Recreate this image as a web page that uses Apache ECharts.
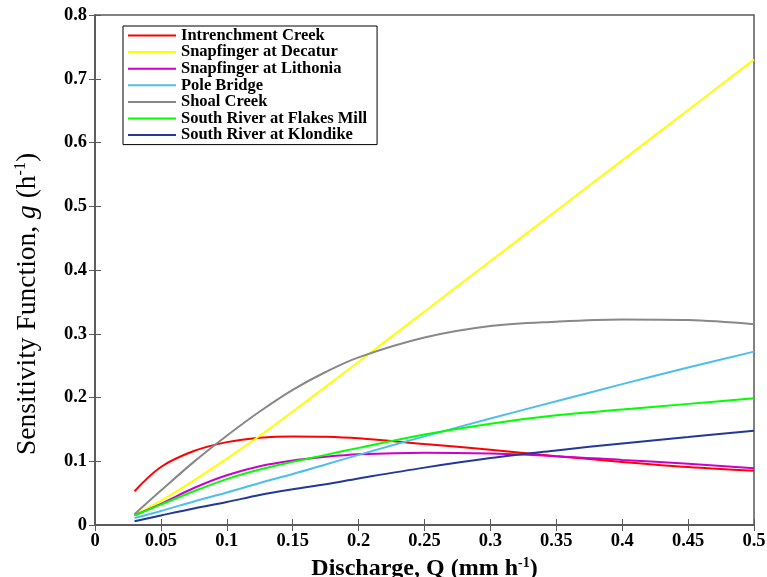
<!DOCTYPE html>
<html>
<head>
<meta charset="utf-8">
<script src="https://cdn.jsdelivr.net/npm/echarts@6/dist/echarts.min.js"></script>
<style>
  html, body { margin: 0; padding: 0; background: #fff; }
  #chart { width: 767px; height: 577px; }
</style>
</head>
<body>
<div id="chart"></div>
<script>
// Discharge values (mm/h) at which each sensitivity curve is sampled
const discharge = [0.03, 0.05, 0.075, 0.1, 0.125, 0.15, 0.175, 0.2, 0.25, 0.3, 0.35, 0.4, 0.45, 0.5];

// Sensitivity function g (1/h) for each gauge
const intrenchmentCreek   = [0.053, 0.091, 0.116, 0.130, 0.137, 0.139, 0.1385, 0.136, 0.127, 0.118, 0.108, 0.099, 0.091, 0.085];
const snapfingerDecatur   = [0.016, 0.038, 0.070, 0.104, 0.140, 0.178, 0.217, 0.256, 0.335, 0.414, 0.493, 0.572, 0.651, 0.730];
const snapfingerLithonia  = [0.015, 0.033, 0.058, 0.078, 0.092, 0.101, 0.107, 0.111, 0.1135, 0.112, 0.108, 0.102, 0.096, 0.089];
const poleBridge          = [0.011, 0.022, 0.037, 0.051, 0.066, 0.080, 0.095, 0.110, 0.139, 0.167, 0.194, 0.221, 0.247, 0.272];
const shoalCreek          = [0.017, 0.054, 0.099, 0.140, 0.178, 0.212, 0.240, 0.263, 0.294, 0.312, 0.319, 0.3225, 0.3215, 0.315];
const southRiverFlakes    = [0.015, 0.032, 0.053, 0.072, 0.087, 0.099, 0.110, 0.121, 0.142, 0.159, 0.172, 0.181, 0.190, 0.199];
const southRiverKlondike  = [0.006, 0.015, 0.026, 0.036, 0.047, 0.056, 0.064, 0.073, 0.090, 0.105, 0.117, 0.128, 0.138, 0.148];

const seriesNames = [
  'Intrenchment Creek',
  'Snapfinger at Decatur',
  'Snapfinger at Lithonia',
  'Pole Bridge',
  'Shoal Creek',
  'South River at Flakes Mill',
  'South River at Klondike'
];
const seriesValues = [
  intrenchmentCreek, snapfingerDecatur, snapfingerLithonia, poleBridge,
  shoalCreek, southRiverFlakes, southRiverKlondike
];
const seriesColors = ['#ff0000', '#ffff00', '#cc00cc', '#4dbeee', '#888888', '#00ff00', '#22389a'];

const FONT = '"Liberation Serif", "Times New Roman", serif';
const FRAME = '#5a5a5a';

const chart = echarts.init(document.getElementById('chart'), null, { renderer: 'canvas' });

const tickLabel = { color: '#000', fontFamily: FONT, fontWeight: 'bold', fontSize: 18.5 };
const frameAxis = {
  axisLine: { show: true, lineStyle: { color: FRAME, width: 1.5 } },
  axisTick: { show: true, inside: true, length: 6, lineStyle: { color: FRAME } },
  splitLine: { show: false }
};

const option = {
  animation: false,
  backgroundColor: '#fff',
  grid: {
    left: 95, right: 13, top: 15, bottom: 52,
    outerBoundsMode: 'none',
    containLabel: false,
    show: true, borderColor: FRAME, borderWidth: 1.5, backgroundColor: 'transparent'
  },
  legend: {
    orient: 'vertical',
    left: 123, top: 26,
    padding: [1, 10, 1, 5],
    itemWidth: 48, itemHeight: 14, itemGap: -0.4,
    backgroundColor: '#fff',
    borderColor: '#000', borderWidth: 1,
    textStyle: { color: '#000', fontFamily: FONT, fontWeight: 'bold', fontSize: 16.5 },
    data: seriesNames.map((n) => ({ name: n, icon: 'path://M0,0H48V2H0Z' }))
  },
  xAxis: [
    Object.assign({
      type: 'value', min: 0, max: 0.5, interval: 0.05,
      position: 'bottom',
      axisLabel: Object.assign({ margin: 7 }, tickLabel),
      name: 'Discharge, Q (mm h{sup|-1})',
      nameLocation: 'middle', nameGap: 24,
      nameTextStyle: {
        color: '#000', fontFamily: FONT, fontWeight: 'bold', fontSize: 24, lineHeight: 26,
        rich: { sup: { fontFamily: FONT, fontWeight: 'bold', fontSize: 14, verticalAlign: 'top', lineHeight: 26, color: '#000' } }
      }
    }, frameAxis),
    Object.assign({
      type: 'value', min: 0, max: 0.5, interval: 0.05,
      position: 'top',
      axisLabel: { show: false }
    }, frameAxis)
  ],
  yAxis: [
    Object.assign({
      type: 'value', min: 0, max: 0.8, interval: 0.1,
      position: 'left',
      axisLabel: Object.assign({ margin: 8 }, tickLabel),
      name: 'Sensitivity Function, {i|g} (h{sup|-1})',
      nameLocation: 'middle', nameGap: 52, nameRotate: 90,
      nameTextStyle: {
        color: '#000', fontFamily: FONT, fontWeight: 'normal', fontSize: 27.5, lineHeight: 30,
        padding: [0, 68, 0, 0],
        rich: {
          i: { fontFamily: FONT, fontStyle: 'italic', fontSize: 27.5, lineHeight: 30, color: '#000' },
          sup: { fontFamily: FONT, fontSize: 16, verticalAlign: 'top', lineHeight: 30, color: '#000' }
        }
      }
    }, frameAxis),
    Object.assign({
      type: 'value', min: 0, max: 0.8, interval: 0.1,
      position: 'right',
      axisLabel: { show: false }
    }, frameAxis)
  ],
  series: seriesNames.map((name, i) => ({
    name: name,
    type: 'line',
    xAxisIndex: 0,
    yAxisIndex: 0,
    data: discharge.map((q, k) => [q, seriesValues[i][k]]),
    smooth: 0.35,
    showSymbol: false,
    symbol: 'none',
    color: seriesColors[i],
    lineStyle: { color: seriesColors[i], width: 2 },
    z: 2 + i
  }))
};

chart.setOption(option);
</script>
</body>
</html>
